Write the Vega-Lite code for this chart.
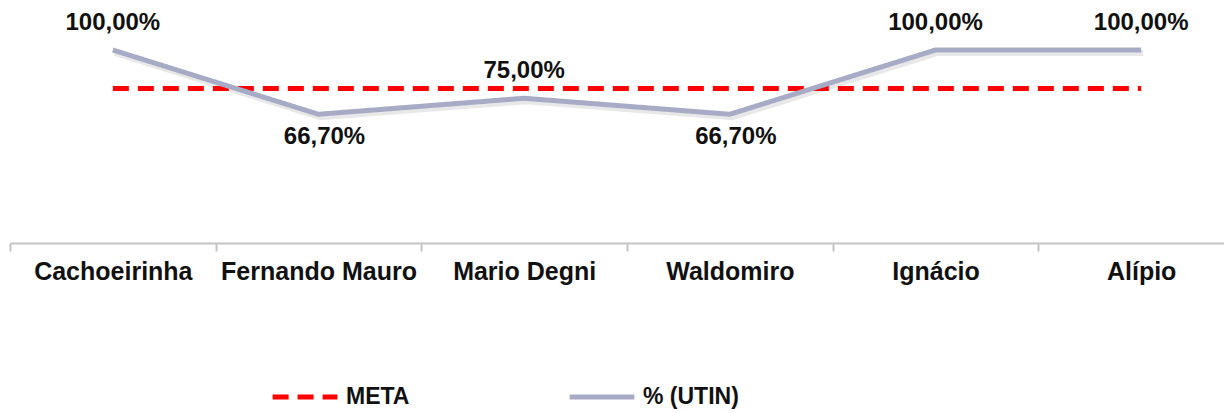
{
  "$schema": "https://vega.github.io/schema/vega-lite/v6.json",
  "width": 1234,
  "height": 193,
  "autosize": {"type": "none"},
  "padding": {"left": 10, "top": 50, "right": 0, "bottom": 170},
  "background": "white",
  "config": {
    "locale": {"number": {"decimal": ",", "thousands": ".", "grouping": [3], "currency": ["R$", ""]}},
    "view": {"stroke": null},
    "font": "Liberation Sans"
  },
  "data": {
    "values": [
      {"unidade": "Cachoeirinha", "serie": "META", "valor": 0.8},
      {"unidade": "Fernando Mauro", "serie": "META", "valor": 0.8},
      {"unidade": "Mario Degni", "serie": "META", "valor": 0.8},
      {"unidade": "Waldomiro", "serie": "META", "valor": 0.8},
      {"unidade": "Ignácio", "serie": "META", "valor": 0.8},
      {"unidade": "Alípio", "serie": "META", "valor": 0.8},
      {"unidade": "Cachoeirinha", "serie": "% (UTIN)", "valor": 1.0},
      {"unidade": "Fernando Mauro", "serie": "% (UTIN)", "valor": 0.667},
      {"unidade": "Mario Degni", "serie": "% (UTIN)", "valor": 0.75},
      {"unidade": "Waldomiro", "serie": "% (UTIN)", "valor": 0.667},
      {"unidade": "Ignácio", "serie": "% (UTIN)", "valor": 1.0},
      {"unidade": "Alípio", "serie": "% (UTIN)", "valor": 1.0}
    ]
  },
  "encoding": {
    "x": {
      "field": "unidade",
      "type": "nominal",
      "sort": null,
      "scale": {"paddingInner": 0, "paddingOuter": 0},
      "axis": {
        "title": null,
        "labelAngle": 0,
        "labelFont": "Liberation Sans",
        "labelFontWeight": "bold",
        "labelFontSize": 25,
        "labelColor": "#111111",
        "labelPadding": 8,
        "labelLimit": 400,
        "labelOverlap": false,
        "domainColor": "#c4c4c4",
        "domainWidth": 2,
        "tickColor": "#c4c4c4",
        "tickWidth": 2,
        "tickSize": 8,
        "tickBand": "extent",
        "grid": false
      }
    },
    "y": {
      "field": "valor",
      "type": "quantitative",
      "scale": {"domain": [0, 1], "nice": false, "zero": true},
      "axis": null
    }
  },
  "layer": [
    {
      "transform": [{"filter": "datum.serie === '% (UTIN)'"}],
      "mark": {"type": "line", "color": "#d8d8d8", "strokeWidth": 6, "opacity": 0.6, "yOffset": 3, "xOffset": 2},
      "encoding": {}
    },
    {
      "mark": {"type": "line", "strokeWidth": 5},
      "encoding": {
        "color": {
          "field": "serie",
          "type": "nominal",
          "scale": {"domain": ["META", "% (UTIN)"], "range": ["#ff0000", "#a7abc6"]},
          "legend": {
            "title": null,
            "orient": "none",
            "direction": "horizontal",
            "legendX": 260,
            "legendY": 312,
            "symbolType": "stroke",
            "symbolSize": 4200,
            "symbolStrokeWidth": 5,
            "labelFont": "Liberation Sans",
            "labelFontWeight": "bold",
            "labelFontSize": 23,
            "labelColor": "#111111",
            "labelOffset": 6,
            "columnPadding": 149,
            "labelLimit": 300
          }
        },
        "strokeDash": {
          "field": "serie",
          "type": "nominal",
          "scale": {"domain": ["META", "% (UTIN)"], "range": [[16, 9], [1, 0]]},
          "legend": {
            "title": null,
            "orient": "none",
            "direction": "horizontal",
            "legendX": 260,
            "legendY": 312,
            "symbolType": "stroke",
            "symbolSize": 4200,
            "symbolStrokeWidth": 5,
            "labelFont": "Liberation Sans",
            "labelFontWeight": "bold",
            "labelFontSize": 23,
            "labelColor": "#111111",
            "labelOffset": 6,
            "columnPadding": 149,
            "labelLimit": 300
          }
        }
      }
    },
    {
      "transform": [{"filter": "datum.serie === '% (UTIN)' && datum.valor >= 0.7"}],
      "mark": {"type": "text", "font": "Liberation Sans", "fontWeight": "bold", "fontSize": 24, "color": "#111111", "baseline": "middle", "dy": -27},
      "encoding": {"text": {"field": "valor", "type": "quantitative", "format": ".2%"}}
    },
    {
      "transform": [{"filter": "datum.serie === '% (UTIN)' && datum.valor < 0.7"}],
      "mark": {"type": "text", "font": "Liberation Sans", "fontWeight": "bold", "fontSize": 24, "color": "#111111", "baseline": "middle", "dy": 23, "dx": 6},
      "encoding": {"text": {"field": "valor", "type": "quantitative", "format": ".2%"}}
    }
  ]
}
